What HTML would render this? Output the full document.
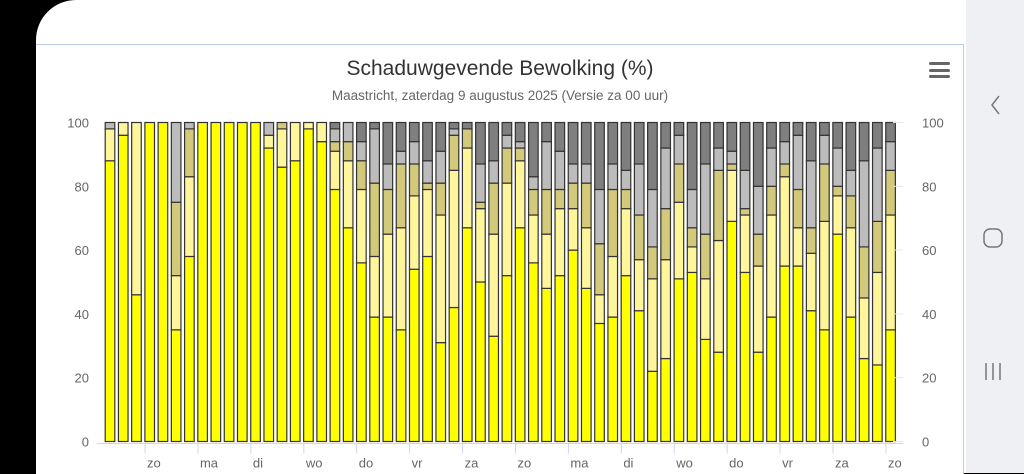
<!DOCTYPE html>
<html><head><meta charset="utf-8">
<style>
html,body{margin:0;padding:0;}
body{width:1024px;height:473px;overflow:hidden;background:#000;font-family:"Liberation Sans",sans-serif;position:relative;}
#screen{position:absolute;left:36px;top:0;width:930px;height:473px;background:#fff;border-top-left-radius:40px;}
#nav{position:absolute;left:966px;top:0;width:58px;height:473px;background:#eef0f4;}
#card{position:absolute;left:36px;top:44px;width:927px;height:429px;border-top:1px solid #b9cde6;border-right:1px solid #b9cde6;background:#fff;}
svg{position:absolute;left:0;top:0;}
</style></head>
<body>
<div id="screen"></div>
<div id="card"></div>
<div id="nav">
  <svg width="58" height="473">
    <polyline points="33,96 26,105 33,114" fill="none" stroke="#777" stroke-width="1.5"/>
    <rect x="18" y="229" width="18" height="18" rx="6" fill="none" stroke="#777" stroke-width="1.5"/>
    <g stroke="#777" stroke-width="1.5">
      <line x1="20" y1="363" x2="20" y2="380"/><line x1="27" y1="363" x2="27" y2="380"/><line x1="34" y1="363" x2="34" y2="380"/>
    </g>
  </svg>
</div>
<svg id="chart" width="1024" height="473">
  <text x="500" y="75" text-anchor="middle" font-size="21" fill="#333">Schaduwgevende Bewolking (%)</text>
  <text x="500" y="100" text-anchor="middle" font-size="13.5" fill="#666">Maastricht, zaterdag 9 augustus 2025 (Versie za 00 uur)</text>
  <g fill="#666">
    <rect x="929" y="62" width="21" height="3" rx="1.5"/>
    <rect x="929" y="69" width="21" height="3" rx="1.5"/>
    <rect x="929" y="75" width="21" height="3" rx="1.5"/>
  </g>
  <g id="grid"></g>
  <g id="bars"></g>
  <g id="axes"></g>
</svg>
<script>
const dayLabels = ["zo","ma","di","wo","do","vr","za","zo","ma","di","wo","do","vr","za","zo"];
const yTicks = [0,20,40,60,80,100];
const sunny   = [88,96,46,100,100,35,58,100,100,100,100,100,92,86,88,98,94,79,67,56,39,39,35,54,58,31,42,67,50,33,52,67,56,48,52,60,48,37,39,52,41,22,26,51,53,32,28,69,53,28,39,55,55,41,35,65,39,26,24,35];
const light   = [10,4,54,0,0,17,25,0,0,0,0,0,4,12,12,2,6,12,21,23,19,26,32,23,21,40,43,25,23,32,29,21,15,17,21,13,19,9,19,21,16,29,31,24,8,19,35,16,18,27,32,28,12,18,34,12,28,19,29,36];
const medium  = [0,0,0,0,0,23,15,0,0,0,0,0,0,2,0,0,0,3,6,9,23,14,20,10,2,10,11,6,2,16,11,4,8,14,6,8,14,16,21,6,14,10,16,12,6,14,22,2,2,10,9,4,12,8,18,3,10,16,16,14];
const thick   = [2,0,0,0,0,25,2,0,0,0,0,0,4,0,0,0,0,4,6,6,17,8,4,7,7,10,2,0,12,7,4,2,4,15,12,6,6,17,8,6,16,18,19,9,12,22,7,4,12,15,12,7,17,21,9,12,8,27,23,9];
const overcast= [0,0,0,0,0,0,0,0,0,0,0,0,0,0,0,0,0,2,0,6,2,13,9,6,12,9,2,2,13,12,4,6,17,6,9,13,13,21,13,15,13,21,8,4,21,13,8,9,15,20,8,6,4,12,4,8,15,12,8,6];
const seriesList = [sunny, light, medium, thick, overcast];
const seriesNames = ["bar-sunny","bar-light-cloud","bar-medium-cloud","bar-thick-cloud","bar-overcast"];
const seriesColors = ["#ffff00","#fff59a","#d3c97a","#bcbcbc","#7f7f7f"];

const NS="http://www.w3.org/2000/svg";
const x0=110, dx=13.23, bw=9.6;
const yTop=122.5, yBot=441.5;
function xScale(i){return x0+dx*i;}
function yScale(v){return yBot-(yBot-yTop)*v/100;}
function mk(tag,attrs,parent){const e=document.createElementNS(NS,tag);for(const k in attrs)e.setAttribute(k,attrs[k]);parent.appendChild(e);return e;}
const grid=document.getElementById('grid'), bars=document.getElementById('bars'), axes=document.getElementById('axes');

// vertical grid / ticks at day boundaries
dayLabels.forEach((d,k)=>{
  const tx=xScale(2.65+4*k);
  const gl=mk('line',{x1:tx,x2:tx,y1:yTop,y2:yBot,stroke:'#ececf0','stroke-width':1},grid);
  
  
  const tk=mk('line',{x1:tx,x2:tx,y1:yBot+2,y2:yBot+12,stroke:'#ccd6eb','stroke-width':1},axes);
  
  
  const t=mk('text',{x:tx+2,y:yBot+26,'font-size':13,fill:'#666'},axes);
  t.textContent=d;
  
  
});
const ax=mk('line',{x1:97,x2:903,y1:yBot+2,y2:yBot+2,stroke:'#ccd6eb','stroke-width':1},axes);


yTicks.forEach(v=>{
  const y=yScale(v);
  const l=mk('line',{x1:893,x2:903,y1:y,y2:y,stroke:'#e6e6e6','stroke-width':1},axes);
  
  
  const tl=mk('text',{x:89,y:y+5,'font-size':13,fill:'#666','text-anchor':'end'},axes);
  tl.textContent=v;
  
  
  const tr=mk('text',{x:922,y:y+5,'font-size':13,fill:'#666'},axes);
  tr.textContent=v;
  
  
});
for(let i=0;i<sunny.length;i++){
  let cum=0;
  seriesList.forEach((s,si)=>{
    const v=s[i]; if(v<=0) return;
    const yb=yScale(cum), yt=yScale(cum+v); cum+=v;
    const r=mk('rect',{x:xScale(i)-bw/2,y:yt,width:bw,height:yb-yt,fill:seriesColors[si],stroke:'#333','stroke-width':1.2},bars);
    
    
  });
}
</script>
</body></html>
